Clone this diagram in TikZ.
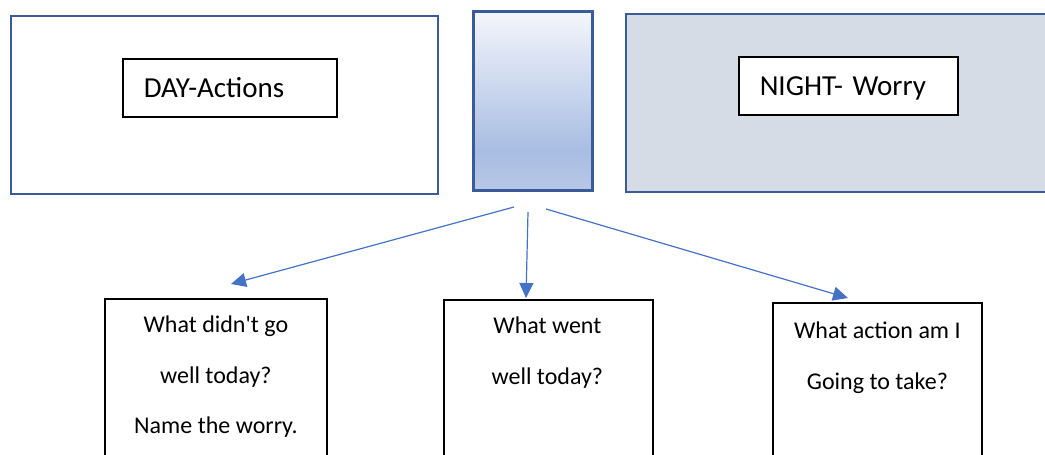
\documentclass[tikz,border=0pt]{standalone}
\usepackage{fontspec}
\setmainfont{Carlito}
\usetikzlibrary{arrows.meta,calc}
\definecolor{framecol}{HTML}{3A5A98}
\definecolor{nightfill}{HTML}{D6DCE5}
\definecolor{arrowblue}{HTML}{4472C4}
\definecolor{gTop}{HTML}{F4F6FB}
\definecolor{gDark}{HTML}{A8BDE2}
\definecolor{gBot}{HTML}{B8C8E7}
\pgfdeclareverticalshading{midgrad}{100bp}{color(0bp)=(gBot); color(25bp)=(gBot); color(36bp)=(gDark); color(75bp)=(gTop); color(100bp)=(gTop)}
\begin{document}
\begin{tikzpicture}[x=1pt,y=-1pt,
  bigbox/.style={draw=framecol, line width=2.2pt, rectangle, anchor=north west, inner sep=0pt},
  labelbox/.style={draw=black, line width=1.5pt, rectangle, anchor=north west, inner sep=0pt, minimum height=58pt, text height=19pt, text depth=0pt, align=left, font=\fontsize{29}{34}\selectfont},
  qbox/.style={draw=black, line width=1.8pt, rectangle, anchor=north west, inner sep=0pt, minimum width=209pt, minimum height=180pt},
  qtext/.style={anchor=north, inner sep=0pt, align=center, font=\fontsize{24}{50.5}\selectfont},
  link/.style={draw=arrowblue, line width=1.2pt, -{Triangle[length=15pt,width=14pt]}}]
\useasboundingbox (0,0) rectangle (1045,455);
\clip (0,0) rectangle (1045,455);
% top row
\node[bigbox, fill=white, minimum width=427.5pt, minimum height=178pt] (day) at (9.5,15) {};
\node[bigbox, line width=3pt, shading=midgrad, minimum width=119pt, minimum height=179pt] (mid) at (472,10) {};
\node[bigbox, fill=nightfill, minimum width=440pt, minimum height=178pt] (night) at (625,13) {};
\node[labelbox, fill=white, minimum width=214pt, text width=172pt, inner xsep=21pt] (daylbl) at (122,58) {DAY-Actions};
\node[labelbox, fill=white, minimum width=219pt, text width=177pt, inner xsep=21pt] (nightlbl) at (738,56) {NIGHT- Worry};
% question boxes
\node[qbox, minimum width=222pt] (q1) at (104,298) {};
\node[qbox] (q2) at (443,299) {};
\node[qbox] (q3) at (772,302) {};
\node[qtext] (t1) at ($(q1.north)+(0,18)$) {What didn\textquotesingle t go\\well today?\\Name the worry.};
\node[qtext] (t2) at ($(q2.north)+(-1,18)$) {What went\\well today?};
\node[qtext] (t3) at ($(q3.north)+(0,20)$) {What action am I\\Going to take?};
% connectors
\coordinate (s1) at (514,207);
\coordinate (s2) at (528,212);
\coordinate (s3) at (546,209);
\coordinate (e1) at (231,284);
\coordinate (e2) at (526,298);
\coordinate (e3) at (848,298);
\draw[link] (s1) -- (e1);
\draw[link] (s2) -- (e2);
\draw[link] (s3) -- (e3);
\end{tikzpicture}
\end{document}
